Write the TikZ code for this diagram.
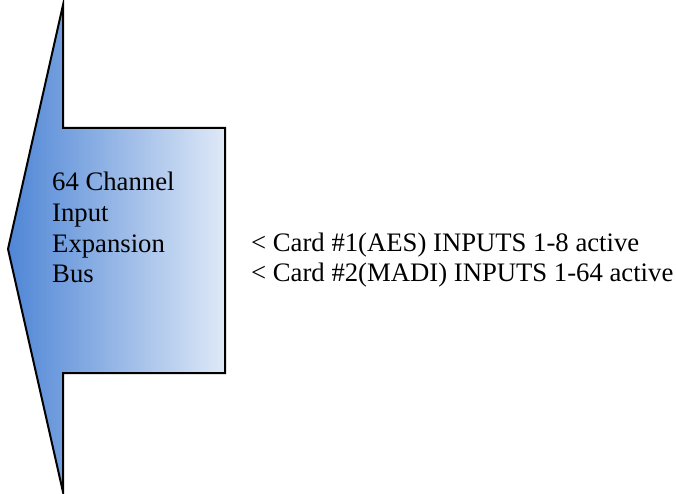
\documentclass[tikz,border=0pt]{standalone}
\usepackage{fontspec}
\setmainfont{Liberation Serif}
\newfontfamily\tms{Liberation Serif}
\definecolor{arrowleft}{HTML}{4F86D6}
\definecolor{arrowright}{HTML}{DFE9F7}
\begin{document}
\begin{tikzpicture}[x=1pt,y=-1pt,
  lbl/.style={anchor=base west,inner sep=0pt,font=\tms\fontsize{26.7}{31}\selectfont}]
\useasboundingbox (0,0) rectangle (676,494);
\path[left color=arrowleft,right color=arrowright,draw=black,line width=2pt,line join=miter]
  (8,249) -- (63,5) -- (63,128) -- (225,128) -- (225,373) -- (63,373) -- (63,492) -- cycle;
\node[lbl] (l1) at (52,191) {64 Channel};
\node[lbl] (l2) at (52,222) {Input};
\node[lbl] (l3) at (52,252) {Expansion};
\node[lbl] (l4) at (52,282) {Bus};
\node[lbl] (r1) at (251,251) {< Card \#1(AES) INPUTS 1-8 active};
\node[lbl] (r2) at (251,281) {< Card \#2(MADI) INPUTS 1-64 active};
\end{tikzpicture}
\end{document}
